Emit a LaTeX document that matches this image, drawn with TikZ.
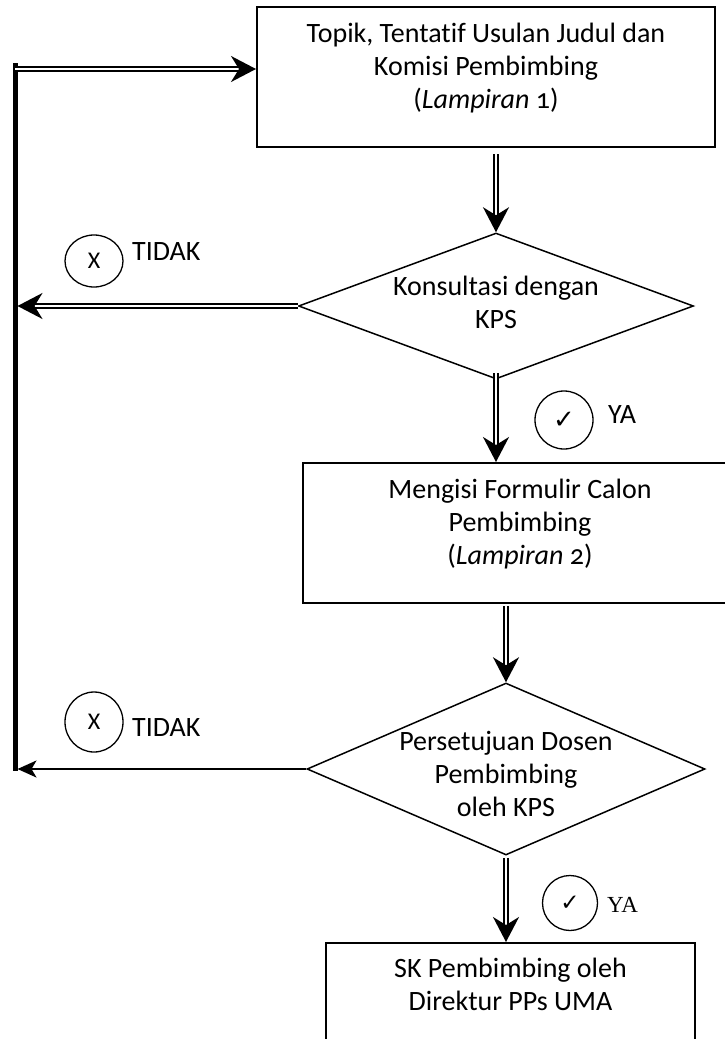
\documentclass[tikz,border=0pt]{standalone}
\usepackage{fontspec}
\setmainfont{Carlito}[Numbers=OldStyle,Ligatures=NoCommon]
\newfontfamily\symfont{DejaVu Sans}
\newfontfamily\yafont{Liberation Serif}
\usetikzlibrary{arrows.meta,shapes.geometric}
\newcommand{\lowpad}[1]{\rule[-#1]{0pt}{#1}}

\begin{document}
\begin{tikzpicture}[x=1pt,y=-1pt,
    every node/.style={font=\fontsize{28}{33}\selectfont},
    box/.style={draw,line width=2pt,rectangle,align=center,inner sep=0pt},
    choice/.style={draw,line width=1.5pt,diamond,align=center,inner xsep=-45pt,inner ysep=0pt},
    flow/.style={double,double distance=2.2pt,line width=2pt,-{Stealth[length=25pt,width=26pt,inset=8pt]}},
    back/.style={line width=2pt,-{Stealth[length=19pt,width=17pt,inset=5pt]}},
    sign/.style={draw,ellipse,line width=1.3pt,inner sep=0pt},
    answer/.style={anchor=west,inner sep=0pt}]
      \useasboundingbox (0,0) rectangle (724,1039);
      \draw
        (486,77) node[box,minimum width=458pt,minimum height=140pt] (topik)
          {Topik, Tentatif Usulan Judul dan\\Komisi Pembimbing\\(\textit{Lampiran} 1)\lowpad{22pt}}
        (496,306) node[choice,minimum width=395pt,minimum height=146pt,aspect=2.7] (konsul)
          {Konsultasi dengan\\KPS\lowpad{8pt}}
        (520,533) node[box,minimum width=434pt,minimum height=140pt] (formulir)
          {Mengisi Formulir Calon\\Pembimbing\\(\textit{Lampiran} 2)\lowpad{22pt}}
        (506,769) node[choice,minimum width=398pt,minimum height=172pt,aspect=2.3] (setuju)
          {\rule{0pt}{30pt}Persetujuan Dosen\\Pembimbing\\oleh KPS}
        (510.5,995) node[box,minimum width=369pt,minimum height=104pt] (sk)
          {SK Pembimbing oleh\\Direktur PPs UMA\lowpad{22pt}};
      \coordinate (railtop) at (15,63);
      \coordinate (railbot) at (15,771);
      \coordinate (entry) at (15,69);
      \draw[line width=5pt] (railtop) to (railbot);
      \draw[flow] (entry) to (entry -| topik.west);
      \draw[flow,shorten <=6pt] (konsul.north |- topik.south) to (konsul.north);
      \draw[flow,shorten >=2.5pt] (konsul.west) to (konsul.west -| railtop);
      \draw[flow] ([yshift=7pt]konsul.south) to (konsul.south |- formulir.north);
      \draw[flow,shorten <=2pt] (setuju.north |- formulir.south) to (setuju.north);
      \draw[flow,shorten <=2pt] (setuju.south) to (setuju.south |- sk.north);
      \draw[back,shorten >=2.5pt] (setuju.west) to (setuju.west -| railbot);
      \draw
        (94,261) node[sign,minimum width=58pt,minimum height=52pt] (no1) {\fontsize{24}{24}\selectfont X}
        (132,252) node[answer] (nolabel1) {TIDAK}
        (564,420) node[sign,minimum size=58pt] (yes1) {\symfont\fontsize{26}{26}\selectfont ✓}
        (608,415) node[answer] (yeslabel1) {YA}
        (94,722) node[sign,minimum width=58pt,minimum height=60pt] (no2) {\fontsize{24}{24}\selectfont X}
        (132,728) node[answer] (nolabel2) {TIDAK}
        (570,903) node[sign,minimum size=55pt] (yes2) {\symfont\fontsize{23}{23}\selectfont ✓}
        (607,905) node[answer,font=\yafont\fontsize{23}{23}\selectfont] (yeslabel2) {YA};
    \end{tikzpicture}
\end{document}
